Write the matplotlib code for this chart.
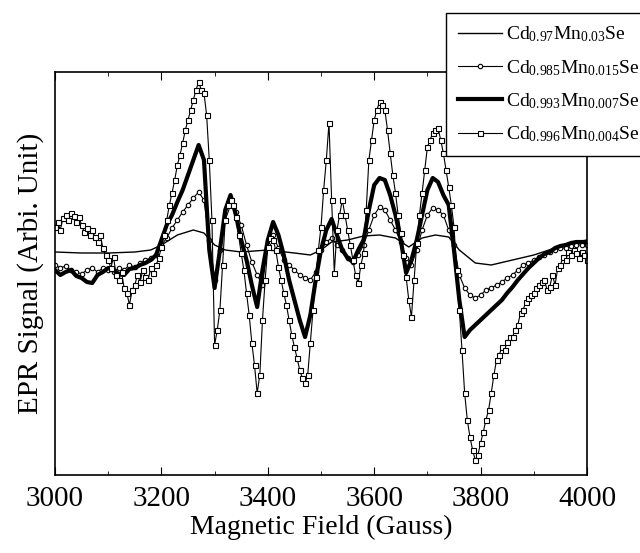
import matplotlib
matplotlib.use('Agg')
import matplotlib.pyplot as plt
from matplotlib.ticker import MultipleLocator

plt.rcParams['font.family'] = ['Liberation Serif', 'DejaVu Serif']
plt.rcParams['mathtext.fontset'] = 'custom'
plt.rcParams['mathtext.rm'] = 'Liberation Serif'
plt.rcParams['mathtext.it'] = 'Liberation Serif'

# data (signal in arbitrary units)
b_thin = [3000, 3050, 3100, 3150, 3180, 3200, 3230, 3260, 3280, 3300, 3320, 3350,
          3400, 3450, 3480, 3500, 3520, 3550, 3580, 3610, 3640, 3665, 3690, 3715,
          3740, 3760, 3790, 3820, 3860, 3900, 3940, 3970, 4000]
s_thin = [8, 7, 7, 8, 10, 15, 25, 30, 27, 15, 10, 8,
          10, 7, 5, 10, 18, 20, 24, 25, 22, 13, 22, 25,
          23, 10, -3, -5, 0, 5, 12, 17, 20]

# 10 G steps
b_985 = list(range(3000, 4001, 10))
s_985 = [-5, -8, -6, -10, -12, -14, -10, -8, -12, -8,
         -10, -12, -8, -10, -5, -7, -3, 0, 2, 5,
         15, 22, 32, 40, 48, 55, 62, 68, 60, 20,
         -20, 10, 40, 55, 48, 35, 15, -2, -15, -25,
         15, 25, 12, 0, -5, -10, -15, -18, -20, -12,
         10, 18, 22, 15, 10, 2, -2, 5, 15, 30,
         45, 53, 50, 40, 30, 18, 2, -5, 10, 30,
         45, 52, 50, 45, 30, 15, -15, -28, -35, -38,
         -35, -30, -28, -25, -22, -18, -15, -10, -5, -3,
         0, 3, 5, 8, 10, 12, 12, 14, 15, 15,
         15]

b_993 = list(range(3000, 4001, 10))
s_993 = [-10, -15, -12, -10, -16, -18, -22, -23, -15, -12,
         -8, -10, -14, -15, -9, -8, -5, -3, 0, 5,
         20, 35, 45, 58, 70, 85, 100, 115, 100, 10,
         -28, 10, 50, 65, 45, 20, 0, -25, -47, -10,
         20, 38, 25, 5, -20, -40, -60, -77, -55, -20,
         10, 30, 41, 25, 10, 2, -2, 10, 20, 50,
         75, 82, 80, 65, 45, 20, -13, 0, 20, 45,
         70, 82, 78, 65, 55, 10, -40, -77, -70, -65,
         -60, -55, -50, -45, -40, -33, -27, -20, -14, -8,
         -3, 2, 6, 8, 12, 14, 15, 17, 18, 18,
         18]

# 5 G steps
b_996 = list(range(3000, 4001, 5))
s_996 = [33, 38, 30, 42, 45, 40, 47, 44, 38, 43,
         35, 28, 32, 25, 30, 23, 18, 25, 12, 5,
         0, -8, 3, -15, -20, -12, -28, -33, -45, -30,
         -25, -15, -22, -10, -17, -20, -8, -13, -5, 2,
         13, 25, 40, 55, 67, 80, 95, 105, 117, 130,
         140, 150, 160, 170, 178, 170, 167, 145, 100, 40,
         -85, -70, -50, -5, 40, 55, 60, 55, 43, 25,
         7, -10, -33, -55, -83, -105, -133, -115, -60, -20,
         13, 22, 20, 10, -7, -20, -33, -45, -60, -75,
         -87, -98, -110, -118, -123, -115, -83, -50, -17, 10,
         33, 70, 100, 137, 60, -13, 30, 45, 60, 45,
         30, 15, 0, -15, -23, -5, 7, 50, 100, 120,
         140, 150, 158, 155, 150, 130, 107, 85, 67, 45,
         27, 5, -17, -40, -57, -20, 17, 45, 67, 90,
         113, 120, 127, 130, 132, 120, 107, 90, 73, 55,
         33, -10, -50, -90, -133, -160, -177, -190, -200, -195,
         -183, -172, -160, -150, -133, -115, -100, -95, -87, -90,
         -82, -77, -77, -70, -65, -53, -50, -42, -38, -35,
         -33, -28, -25, -22, -20, -30, -27, -15, -25, -8,
         -5, 3, 0, 8, 5, 10, 7, 2, 8, 5,
         0]

labels = [r'Cd$_{0.97}$Mn$_{0.03}$Se', r'Cd$_{0.985}$Mn$_{0.015}$Se',
          r'Cd$_{0.993}$Mn$_{0.007}$Se', r'Cd$_{0.996}$Mn$_{0.004}$Se']

fig = plt.figure(figsize=(6.4, 5.53), dpi=100)
ax = fig.add_axes([55 / 640, 1 - 475 / 553, 532 / 640, 403 / 553])

ax.plot(b_thin, s_thin, color='black', lw=1.0, label=labels[0])
ax.plot(b_985, s_985, color='black', lw=0.8, marker='o', ms=3.2,
        mfc='white', mec='black', mew=0.8, label=labels[1])
ax.plot(b_993, s_993, color='black', lw=3.0, label=labels[2])
ax.plot(b_996, s_996, color='black', lw=0.8, marker='s', ms=3.6,
        mfc='white', mec='black', mew=0.8, label=labels[3])

ax.set_xlim(3000, 4000)
ax.set_ylim(-215, 188)
ax.xaxis.set_major_locator(MultipleLocator(200))
ax.xaxis.set_minor_locator(MultipleLocator(100))
ax.set_yticks([])
ax.tick_params(axis='x', which='both', direction='in', top=True, labelsize=21, pad=8)
ax.tick_params(axis='x', which='major', length=6)
ax.tick_params(axis='x', which='minor', length=3)
for sp in ax.spines.values():
    sp.set_linewidth(1.2)

ax.set_xlabel('Magnetic Field (Gauss)', fontsize=20, labelpad=2)
ax.set_ylabel('EPR Signal (Arbi. Unit)', fontsize=21, labelpad=8)

leg = fig.legend(loc='upper left', bbox_to_anchor=(446 / 640, 1 - 13 / 553),
                 fontsize=14, frameon=True, fancybox=False, handlelength=2.3,
                 handletextpad=0.2, borderpad=0.6, labelspacing=0.7,
                 borderaxespad=0, framealpha=1)
leg.get_frame().set_edgecolor('black')
leg.get_frame().set_linewidth(1.0)

fig.savefig('out.png', dpi=100)
